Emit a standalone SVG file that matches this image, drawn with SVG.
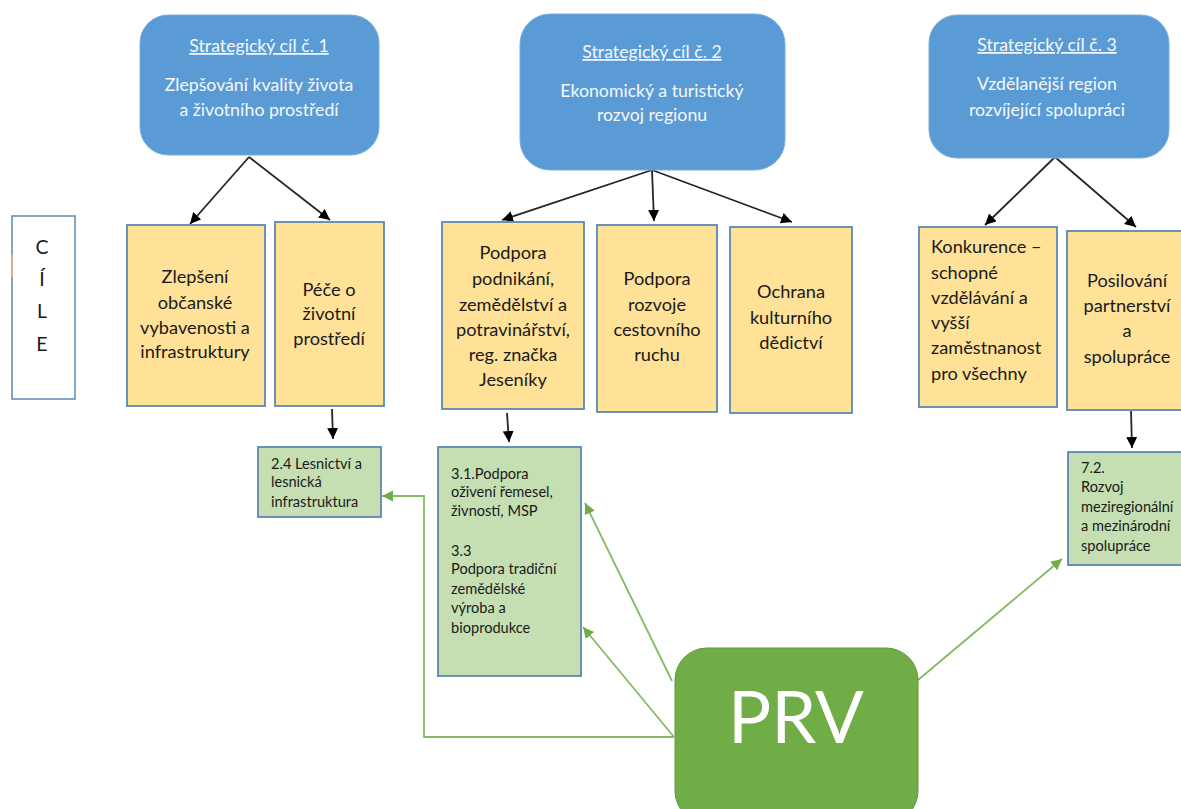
<svg xmlns="http://www.w3.org/2000/svg" width="1181" height="809" viewBox="0 0 1181 809">
<style>
text{font-family:Lato,"Liberation Sans",sans-serif}
.b rect{fill:#5b9bd5;stroke:#7aaedd;stroke-width:1}
.b text{fill:#f4f8fc;font-size:17.7px;text-anchor:middle}
.y rect{fill:#ffe197;stroke:#5b88b5;stroke-width:1.8}
.y text{fill:#1a1a1a;font-size:18.2px;text-anchor:middle}
.y text.l{text-anchor:start}
.g rect{fill:#c5dfb3;stroke:#5b88b5;stroke-width:1.8}
.g text{fill:#1a1a1a;font-size:14.6px}
.k{fill:none;stroke:#262626;stroke-width:1.8;marker-end:url(#ak)}
.v{fill:none;stroke:#85ba64;stroke-width:1.8;marker-end:url(#av)}
</style>
<defs>
<marker id="ak" markerUnits="userSpaceOnUse" markerWidth="12" markerHeight="12" refX="11" refY="5.5" orient="auto"><path d="M0 0L11 5.5L0 11Z" fill="#000"/></marker>
<marker id="av" markerUnits="userSpaceOnUse" markerWidth="12" markerHeight="12" refX="11" refY="5.5" orient="auto"><path d="M0 0L11 5.5L0 11Z" fill="#70ad47"/></marker>
</defs>
<rect width="1181" height="809" fill="#fff"/>
<g id="connectors">
<path class="k" d="M249 157L190 224"/>
<path class="k" d="M249 157L330 220"/>
<path class="k" d="M652 170L502 220"/>
<path class="k" d="M652 170L654 221"/>
<path class="k" d="M652 170L792 222"/>
<path class="k" d="M1055 157L985 225"/>
<path class="k" d="M1055 157L1136 227"/>
<path class="k" d="M332 409L333 439"/>
<path class="k" d="M507 413L509 442"/>
<path class="k" d="M1131 411L1132 448"/>
<path class="v" d="M674 737H424V496H382"/>
<path class="v" d="M674 737L583 627"/>
<path class="v" d="M672 681L585 503"/>
<path class="v" d="M918 680L1062 559"/>
</g>
<g id="cile">
<rect x="12" y="216" width="63" height="183" fill="#fff" stroke="#5b88b5" stroke-width="1.5"/>
<path d="M12 255V277" stroke="#e8b48a" stroke-width="1.5" fill="none"/>
<g font-size="19.5" text-anchor="middle" fill="#1a1a1a"><text x="42" y="254">C</text><text x="42" y="286">Í</text><text x="42" y="318">L</text><text x="42" y="351">E</text></g>
</g>
<g id="cil1" class="b"><rect x="140" y="15" width="239" height="140" rx="28"/>
<text x="259" y="52" text-decoration="underline">Strategický cíl č. 1</text><text x="259" y="91">Zlepšování kvality života</text><text x="259" y="116">a životního prostředí</text></g>
<g id="cil2" class="b"><rect x="520" y="14" width="265" height="156" rx="30"/>
<text x="652" y="58" text-decoration="underline">Strategický cíl č. 2</text><text x="652" y="97">Ekonomický a turistický</text><text x="652" y="121">rozvoj regionu</text></g>
<g id="cil3" class="b"><rect x="929" y="15" width="240" height="143" rx="28"/>
<text x="1047" y="51" text-decoration="underline">Strategický cíl č. 3</text><text x="1047" y="90">Vzdělanější region</text><text x="1047" y="116">rozvíjející spolupráci</text></g>
<g id="y1" class="y"><rect x="127" y="225" width="138" height="181"/>
<text x="195" y="283">Zlepšení</text><text x="195" y="309">občanské</text><text x="195" y="334">vybavenosti a</text><text x="195" y="358">infrastruktury</text></g>
<g id="y2" class="y"><rect x="275" y="222" width="109" height="184"/>
<text x="329" y="296">Péče o</text><text x="329" y="320">životní</text><text x="329" y="345">prostředí</text></g>
<g id="y3" class="y"><rect x="442" y="222" width="142" height="187"/>
<text x="513" y="259">Podpora</text><text x="513" y="285">podnikání,</text><text x="513" y="311">zemědělství a</text><text x="513" y="336">potravinářství,</text><text x="513" y="361">reg. značka</text><text x="513" y="386">Jeseníky</text></g>
<g id="y4" class="y"><rect x="597" y="225" width="120" height="187"/>
<text x="657" y="285">Podpora</text><text x="657" y="311">rozvoje</text><text x="657" y="336">cestovního</text><text x="657" y="361">ruchu</text></g>
<g id="y5" class="y"><rect x="730" y="227" width="122" height="186"/>
<text x="791" y="298">Ochrana</text><text x="791" y="324">kulturního</text><text x="791" y="349">dědictví</text></g>
<g id="y6" class="y"><rect x="919" y="227" width="138" height="180"/>
<text class="l" x="931" y="253">Konkurence –</text><text class="l" x="931" y="279">schopné</text><text class="l" x="931" y="304">vzdělávání a</text><text class="l" x="931" y="329">vyšší</text><text class="l" x="931" y="354">zaměstnanost</text><text class="l" x="931" y="380">pro všechny</text></g>
<g id="y7" class="y"><rect x="1067" y="231" width="120" height="179"/>
<text x="1127" y="287">Posilování</text><text x="1127" y="312">partnerství</text><text x="1127" y="337">a</text><text x="1127" y="363">spolupráce</text></g>
<g id="g1" class="g"><rect x="258" y="447" width="123" height="70"/>
<text x="271" y="469">2.4 Lesnictví a</text><text x="271" y="487">lesnická</text><text x="271" y="507">infrastruktura</text></g>
<g id="g2" class="g"><rect x="438" y="447" width="143" height="229"/>
<text x="451" y="479">3.1.Podpora</text><text x="451" y="497">oživení řemesel,</text><text x="451" y="516">živností, MSP</text><text x="451" y="556">3.3</text><text x="451" y="574">Podpora tradiční</text><text x="451" y="594">zemědělské</text><text x="451" y="613">výroba a</text><text x="451" y="633">bioprodukce</text></g>
<g id="g3" class="g"><rect x="1068" y="452" width="120" height="113"/>
<text x="1081" y="473">7.2.</text><text x="1081" y="492">Rozvoj</text><text x="1081" y="512">meziregionální</text><text x="1081" y="531">a mezinárodní</text><text x="1081" y="551">spolupráce</text></g>
<g id="prv"><rect x="675" y="648" width="243" height="175" rx="32" fill="#70ad47" stroke="#5f9a3b" stroke-width="1"/>
<text x="796" y="743" font-size="72" text-anchor="middle" fill="#fff">PRV</text></g>
</svg>
